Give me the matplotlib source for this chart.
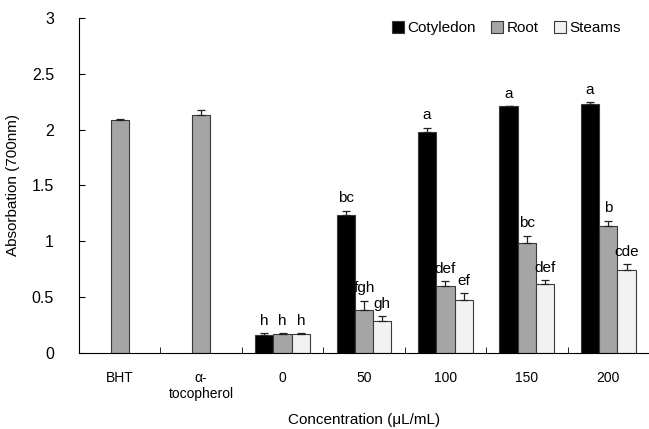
import numpy as np
import matplotlib
matplotlib.use('Agg')
import matplotlib.pyplot as plt

plt.rcParams['font.family'] = ['Liberation Sans', 'DejaVu Sans']

# data
categories = ['BHT', 'α-\ntocopherol', '0', '50', '100', '150', '200']
series = ['Cotyledon', 'Root', 'Steams']
cotyledon = [np.nan, np.nan, 0.164, 1.235, 1.975, 2.208, 2.226]
root = [2.086, 2.13, 0.17, 0.385, 0.597, 0.982, 1.14]
steams = [np.nan, np.nan, 0.17, 0.29, 0.475, 0.615, 0.746]
cotyledon_err = [0, 0, 0.012, 0.04, 0.04, 0.0, 0.018]
root_err = [0.01, 0.05, 0.008, 0.085, 0.045, 0.07, 0.045]
steams_err = [0, 0, 0.008, 0.04, 0.06, 0.035, 0.05]
cotyledon_lbl = ['', '', 'h', 'bc', 'a', 'a', 'a']
root_lbl = ['', '', 'h', 'fgh', 'def', 'bc', 'b']
steams_lbl = ['', '', 'h', 'gh', 'ef', 'def', 'cde']

colors = ['#000000', '#a5a5a5', '#f2f2f2']

fig = plt.figure(figsize=(6.49, 4.29), dpi=100)
ax = fig.add_axes([0.1217, 0.1772, 0.8783, 0.7808])

x = np.arange(len(categories))
w = 0.225
vals = [cotyledon, root, steams]
errs = [cotyledon_err, root_err, steams_err]
lbls = [cotyledon_lbl, root_lbl, steams_lbl]

for i in range(3):
    off = (i - 1) * w
    xs = x.copy().astype(float) + off
    # BHT and tocopherol only have the root bar, centered
    if i == 1:
        xs[:2] = x[:2]
    v = np.array(vals[i], dtype=float)
    e = np.array(errs[i], dtype=float)
    ax.bar(xs, v, w, color=colors[i], edgecolor='#3a3a3a', linewidth=0.8,
           label=series[i], zorder=2)
    mask = ~np.isnan(v)
    ax.errorbar(xs[mask], v[mask], yerr=[np.zeros(mask.sum()), e[mask]],
                fmt='none', ecolor='#222222', elinewidth=0.9, capsize=3,
                capthick=0.9, zorder=3)
    for xx, vv, ee, t in zip(xs, v, e, lbls[i]):
        if t:
            ax.text(xx, vv + ee + 0.05, t, ha='center', va='bottom', fontsize=11)

ax.set_xlim(-0.5, len(categories) - 0.5)
ax.set_ylim(0, 3)
ax.set_yticks([0, 0.5, 1, 1.5, 2, 2.5, 3])
ax.set_yticklabels(['0', '0.5', '1', '1.5', '2', '2.5', '3'], fontsize=11.5)
ax.set_xticks(x)
ax.set_xticklabels(categories, fontsize=10)
ax.set_xticks(np.arange(len(categories) + 1) - 0.5, minor=True)
ax.tick_params(axis='x', which='major', length=0, pad=13)
ax.tick_params(axis='x', which='minor', direction='in', length=4)
ax.tick_params(axis='y', direction='in', length=4, pad=18)
for s in ['top', 'right']:
    ax.spines[s].set_visible(False)

ax.set_ylabel('Absorbation (700nm)', fontsize=11)
ax.yaxis.set_label_coords(-0.104, 0.5)
ax.set_xlabel('Concentration (μL/mL)', fontsize=11, va='center')
ax.xaxis.set_label_coords(0.5, -0.2)

ax.legend(loc='center right', bbox_to_anchor=(0.95, 0.97), ncol=3, frameon=False,
          fontsize=11, handlelength=0.8, handleheight=0.8, handletextpad=0.2,
          columnspacing=1.0, borderpad=0, borderaxespad=0)

fig.savefig('out.png', dpi=100)
